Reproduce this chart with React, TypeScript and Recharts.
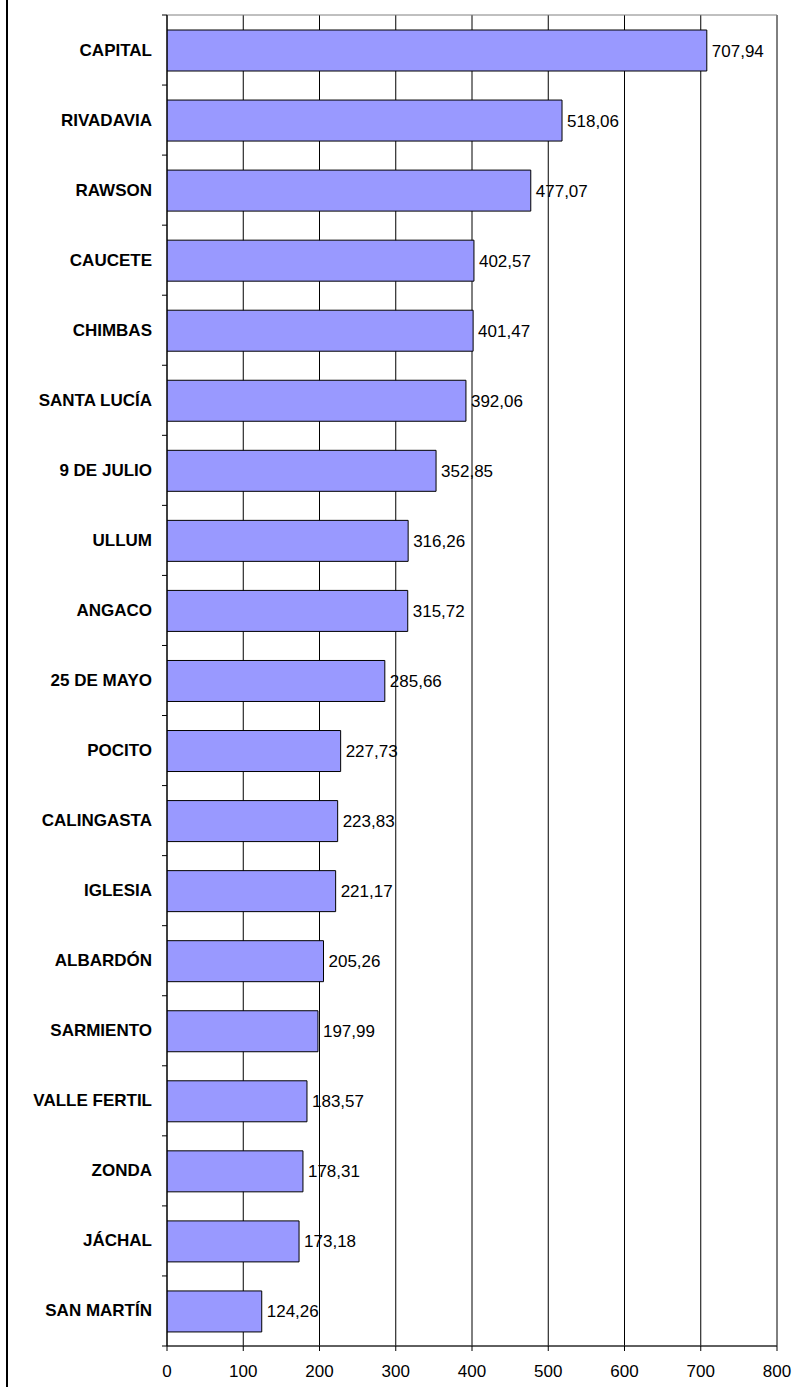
import { BarChart, Bar, XAxis, YAxis, CartesianGrid, LabelList, ReferenceArea } from 'recharts';

const departamentos = [
  'CAPITAL', 'RIVADAVIA', 'RAWSON', 'CAUCETE', 'CHIMBAS', 'SANTA LUCÍA', '9 DE JULIO',
  'ULLUM', 'ANGACO', '25 DE MAYO', 'POCITO', 'CALINGASTA', 'IGLESIA', 'ALBARDÓN',
  'SARMIENTO', 'VALLE FERTIL', 'ZONDA', 'JÁCHAL', 'SAN MARTÍN',
];

const valores = [
  707.94, 518.06, 477.07, 402.57, 401.47, 392.06, 352.85,
  316.26, 315.72, 285.66, 227.73, 223.83, 221.17, 205.26,
  197.99, 183.57, 178.31, 173.18, 124.26,
];

const xTicks = [0, 100, 200, 300, 400, 500, 600, 700, 800];

const data = departamentos.map((name, i) => ({ name, value: valores[i] }));

const FONT = '"Liberation Sans", Arial, sans-serif';
const AXIS_X = 167;
const PLOT_TOP = 15;
const PLOT_BOTTOM = 1346;
const BAND = (PLOT_BOTTOM - PLOT_TOP) / departamentos.length;

const fmt = (v: number) => v.toFixed(2).replace('.', ',');

// category label at band centre, small tick marks at band edges
function CategoryTick(props: any) {
  const { y, payload, index } = props;
  const top = y - BAND / 2;
  return (
    <g>
      <line x1={AXIS_X - 5} x2={AXIS_X} y1={top} y2={top} stroke="#000" />
      {index === departamentos.length - 1 && (
        <line x1={AXIS_X - 5} x2={AXIS_X} y1={top + BAND} y2={top + BAND} stroke="#000" />
      )}
      <text
        x={AXIS_X - 15}
        y={y}
        textAnchor="end"
        dominantBaseline="central"
        fontFamily={FONT}
        fontWeight="bold"
        fontSize={17}
        fill="#000"
      >
        {payload.value}
      </text>
    </g>
  );
}

export default function App() {
  return (
    <div style={{ position: 'absolute', left: 0, top: 0, width: 803, height: 1387, background: '#fff' }}>
      <div style={{ position: 'absolute', left: 6, top: 0, width: 2, height: 1387, background: '#000' }} />
      <BarChart
        width={803}
        height={1387}
        data={data}
        layout="vertical"
        margin={{ top: PLOT_TOP, right: 26, bottom: 0, left: 0 }}
        barSize={41}
      >
        <CartesianGrid horizontal={false} stroke="#000" strokeOpacity={1} />
        <ReferenceArea x1={0} x2={800} fill="none" stroke="#808080" strokeWidth={1} />
        <XAxis
          type="number"
          domain={[0, 800]}
          ticks={xTicks}
          interval={0}
          allowDataOverflow
          height={1387 - PLOT_BOTTOM}
          stroke="#000"
          tickSize={5}
          tickMargin={14}
          tick={{ fill: '#000', fontFamily: FONT, fontSize: 17 }}
        />
        <YAxis
          type="category"
          dataKey="name"
          width={AXIS_X}
          stroke="#000"
          tickLine={false}
          interval={0}
          tick={<CategoryTick />}
        />
        <Bar dataKey="value" fill="#9999FF" stroke="#000" strokeWidth={1} isAnimationActive={false}>
          <LabelList
            dataKey="value"
            position="right"
            offset={5}
            formatter={(v: any) => fmt(Number(v))}
            style={{ fill: '#000', fontFamily: FONT, fontSize: 17 }}
          />
        </Bar>
      </BarChart>
    </div>
  );
}
